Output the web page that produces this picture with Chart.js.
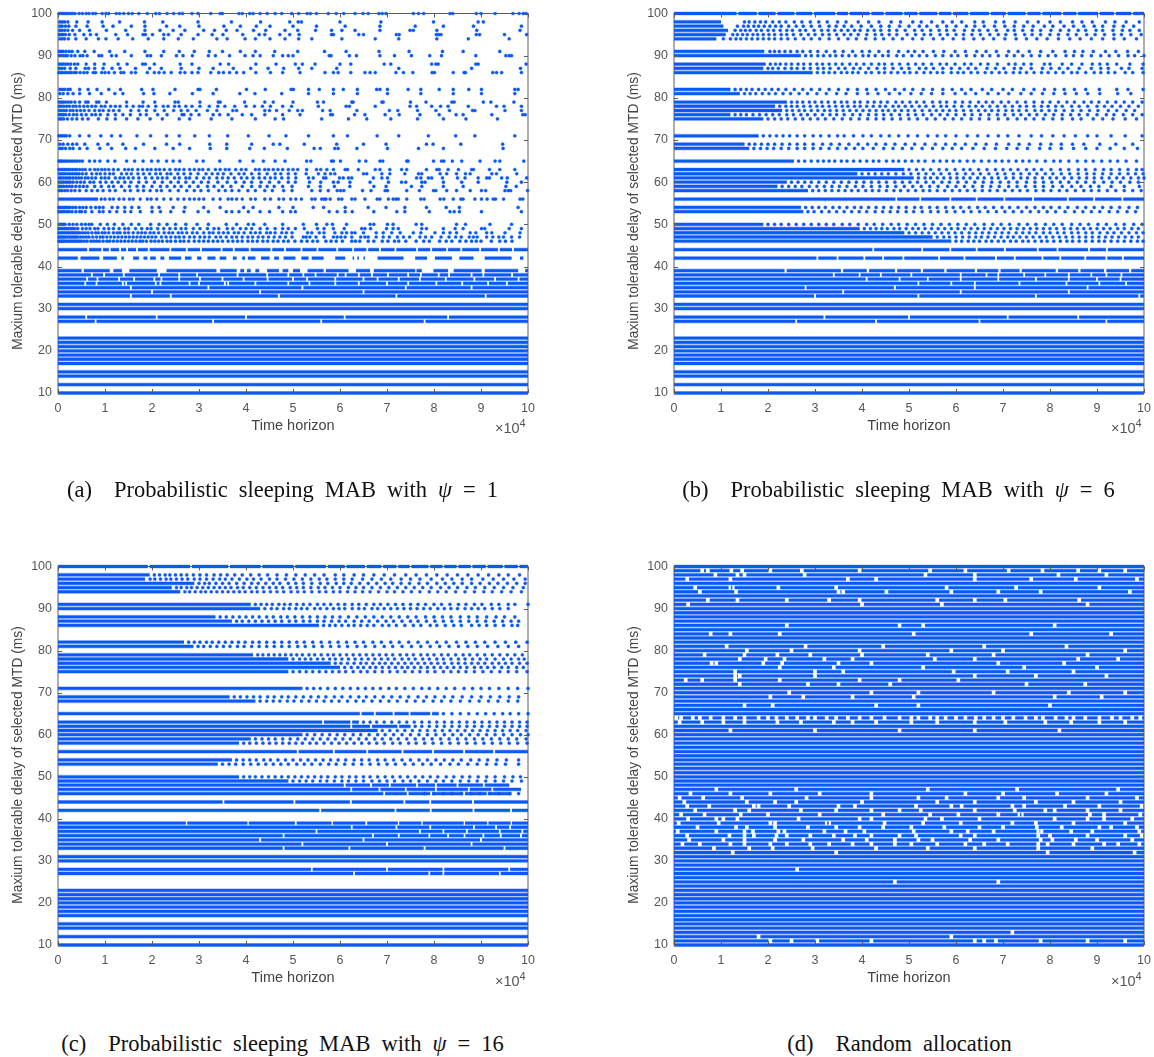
<!DOCTYPE html>
<html>
<head>
<meta charset="utf-8">
<title>Sleeping MAB delay charts</title>
<script src="https://cdn.jsdelivr.net/npm/chart.js@4"></script>
<style>
  body { margin: 0; background: #fff; width: 1154px; height: 1057px; position: relative; overflow: hidden; }
  canvas { position: absolute; }
  .caption { position: absolute; width: 577px; text-align: center; font: 22.5px "Liberation Serif", serif; color: #111; word-spacing: 5.4px; white-space: nowrap; }
  .exp { position: absolute; font: 14.5px "Liberation Sans", sans-serif; color: #555; white-space: nowrap; }
  .exp sup { font-size: 11px; line-height: 0; }
  .ylab { position: absolute; font: 13.8px "Liberation Sans", sans-serif; color: #444; white-space: nowrap; transform: translate(-50%, -50%) rotate(-90deg); }
</style>
</head>
<body>
<canvas id="a" width="577" height="445" style="left:0;top:0"></canvas>
<canvas id="b" width="577" height="445" style="left:616px;top:0"></canvas>
<canvas id="c" width="577" height="444" style="left:0;top:553px"></canvas>
<canvas id="d" width="577" height="444" style="left:616px;top:553px"></canvas>
<div class="ylab" style="left:17px;top:211px">Maxium tolerable delay of selected MTD (ms)</div>
<div class="ylab" style="left:633px;top:211px">Maxium tolerable delay of selected MTD (ms)</div>
<div class="ylab" style="left:17px;top:765px">Maxium tolerable delay of selected MTD (ms)</div>
<div class="ylab" style="left:633px;top:765px">Maxium tolerable delay of selected MTD (ms)</div>
<div class="caption" style="left:-6px;top:477px">(a)&nbsp; Probabilistic sleeping MAB with <i>ψ</i> = 1</div>
<div class="caption" style="left:610px;top:477px">(b)&nbsp; Probabilistic sleeping MAB with <i>ψ</i> = 6</div>
<div class="caption" style="left:-6px;top:1031px">(c)&nbsp; Probabilistic sleeping MAB with <i>ψ</i> = 16</div>
<div class="caption" style="left:611px;top:1031px">(d)&nbsp; Random allocation</div>
<div class="exp" style="left:495px;top:420px">×10<sup>4</sup></div>
<div class="exp" style="left:1111px;top:420px">×10<sup>4</sup></div>
<div class="exp" style="left:495px;top:973px">×10<sup>4</sup></div>
<div class="exp" style="left:1111px;top:973px">×10<sup>4</sup></div>
<script>
const dotLevels = [100,98,97,96,95,94,91,90,88,87,86,82,81,79,78,77,76,75,71,69,68,65,63,62,61,60,59,58,56,54,53,50,49,48,47,46];

const dotsA = [
[2,6,10,14,18,22,27,31,36,45,52,60,66,74,80,94,102,108,124,131,140,150,158,172,190,208,216,232,246,258,265,285,298,325,345,350,385,392,408,415,430,445,462,476,497,512,530,537,550,575,592,608,632,649,660,683,690,698,756,767,778,834,840,890,900,930,968,981,990,996],
[4,9,14,21,40,64,94,131,184,223,298,369,431,493,511,518,600,687,799,894,905],
[4,9,16,23,38,62,96,117,156,185,231,259,300,353,388,422,451,500,550,611,685,760,820,884,986],
[4,8,14,21,31,46,67,103,144,185,217,245,270,310,333,358,381,416,442,483,510,548,582,604,632,685,749,756,806,891,983],
[3,7,11,16,24,36,55,69,82,123,148,181,186,201,225,235,262,298,328,351,393,428,440,472,493,513,582,586,640,650,720,726,805,810,815,890,897,950,997],
[4,9,14,22,38,60,86,102,128,159,192,225,256,288,338,360,398,420,451,483,512,540,604,675,725,806,873,960],
[3,7,11,17,24,30,42,57,77,110,142,185,225,258,290,322,350,388,420,461,510,567,613,683,747,818,862,940],
[3,7,12,16,20,28,36,47,53,62,87,93,114,124,156,190,197,220,252,266,286,320,335,365,398,415,430,458,478,490,500,577,581,620,635,685,716,752,791,816,889,953,960,965],
[3,7,11,16,21,27,35,42,60,78,98,128,147,180,186,205,260,285,345,363,421,464,505,520,547,600,623,694,708,795,804,809,889,894,996],
[3,8,14,26,38,58,65,78,96,115,132,165,195,220,262,300,330,373,410,447,480,512,540,593,725,880,984],
[2,6,10,15,19,24,28,34,39,47,55,62,75,80,93,100,108,120,134,140,156,165,190,205,215,226,241,260,270,285,298,325,342,352,365,380,395,421,452,478,515,568,586,596,623,653,664,675,719,735,755,796,801,841,864,867,925,933,944,986],
[4,9,14,21,26,46,64,83,108,133,178,202,249,298,302,337,401,441,496,501,533,556,586,607,637,678,685,701,745,772,811,841,874,901,972,979],
[4,11,21,32,46,67,92,121,138,182,204,238,286,330,387,419,476,533,586,637,701,772,841,901,972],
[3,7,11,16,22,28,36,46,59,64,82,87,103,146,181,206,249,256,302,341,345,397,440,458,500,552,565,625,628,689,692,750,783,838,843,905,921,970],
[3,7,12,18,24,32,38,46,55,63,72,80,92,100,112,122,132,146,160,173,180,192,208,224,234,248,258,272,285,302,322,340,355,376,400,418,435,452,478,497,554,613,620,675,749,763,795,814,830,873,933,949,986],
[3,8,13,18,26,32,40,48,56,66,78,88,96,108,118,130,155,172,188,206,226,246,262,276,294,318,338,372,380,440,450,465,492,510,520,563,579,636,705,723,765,804,833,882,887,951,986],
[3,7,11,16,24,33,40,50,60,72,80,90,106,122,138,154,175,188,212,232,264,268,283,300,330,344,362,392,412,440,478,515,580,584,631,653,696,726,770,811,847,862,923,989,994],
[3,7,12,20,30,40,52,64,86,104,122,146,170,196,222,258,280,326,370,420,462,480,561,618,657,708,765,820,868,935],
[2,6,10,14,18,25,46,66,91,114,133,168,197,231,258,291,322,361,405,449,485,533,586,616,679,725,788,846,887,972],
[4,11,21,31,40,57,85,106,138,182,231,259,323,359,412,458,472,524,593,650,698,784,798,857,946],
[4,9,16,25,32,46,62,89,114,144,165,206,245,280,324,359,408,439,488,545,558,589,596,636,701,767,820,947],
[2,5,8,12,16,20,25,30,35,40,46,52,67,78,89,106,121,146,163,181,199,213,231,245,259,295,309,344,387,415,437,462,483,529,538,582,586,601,641,655,685,691,742,745,799,816,821,839,859,898,930,940,991],
[2,6,10,14,18,22,26,31,36,40,46,52,58,68,78,85,93,100,108,118,128,142,150,158,170,180,190,198,208,216,226,238,250,258,268,280,290,300,308,320,335,345,356,364,378,390,400,420,428,440,448,458,468,478,490,500,510,529,550,559,572,586,611,616,639,675,685,706,731,742,784,806,811,830,852,880,884,918,940,972],
[3,7,11,15,20,25,30,35,40,45,52,60,72,82,90,100,110,118,135,146,156,170,182,195,208,218,232,240,255,268,282,298,315,328,340,352,368,385,396,412,428,445,462,474,490,505,528,554,568,580,589,650,657,689,706,738,767,774,813,827,848,867,877,923,933,976],
[3,7,12,17,22,26,32,38,44,50,58,64,72,80,92,100,108,122,132,140,150,160,172,186,200,212,222,232,248,258,272,280,295,310,322,338,350,362,375,390,402,415,428,440,452,462,476,490,506,533,543,565,570,599,607,618,625,671,689,701,763,772,788,795,818,850,866,894,912,918,944,956,997],
[3,7,11,16,21,26,32,40,48,56,68,76,90,102,115,128,142,155,172,188,205,222,240,256,272,288,305,320,340,360,378,396,412,432,450,470,490,505,535,559,586,596,621,664,703,731,740,774,781,820,859,894,955,986],
[3,7,12,18,24,30,38,46,54,62,78,92,108,118,135,152,168,182,200,218,232,248,262,280,298,318,332,350,368,392,412,430,445,460,478,498,533,558,588,621,672,698,752,774,820,862,953,975],
[3,8,14,20,28,36,46,60,72,84,96,110,122,142,154,170,182,196,210,220,238,256,274,290,304,320,342,356,370,385,404,420,440,456,480,498,540,558,575,594,601,608,648,666,696,701,742,769,799,804,827,848,877,901,910,951,958,963,999],
[92,100,110,118,130,140,152,160,175,190,198,210,225,240,255,268,280,290,300,310,330,345,362,370,380,392,410,420,440,452,470,480,495,506,518,540,547,561,566,570,579,597,604,625,632,653,679,685,703,713,719,724,742,772,779,813,821,841,857,862,887,901,913,926,931,948,983,989],
[2,6,10,14,18,22,26,32,38,46,53,60,70,80,88,96,115,127,142,157,172,200,215,245,270,310,345,395,415,470,500,543,565,611,660,698,738,784,826,854,979],
[2,6,10,14,19,24,30,38,46,50,58,72,88,96,110,125,142,155,175,200,218,240,268,298,320,358,370,385,405,430,450,478,495,505,577,594,611,626,672,721,738,790,834,843,854,901,986],
[3,7,11,15,24,32,40,50,58,66,72,90,105,120,138,156,172,197,215,232,250,272,296,320,358,380,405,416,440,478,522,550,572,584,614,664,672,701,713,762,774,848,867,919,965],
[2,6,10,14,18,22,27,31,36,42,52,60,68,78,85,98,108,118,130,142,150,165,178,190,198,212,225,238,250,262,272,288,302,318,332,342,360,372,388,400,412,430,445,462,478,490,505,524,552,566,586,609,646,653,665,699,713,724,774,784,820,845,862,901,908,960,986],
[2,6,10,14,18,22,26,30,34,38,42,46,52,58,64,72,80,86,94,100,108,118,126,132,142,150,160,170,178,186,196,204,214,226,236,244,256,264,274,286,296,310,322,330,342,352,362,375,384,396,410,420,430,444,452,462,476,486,498,531,540,556,566,589,604,614,625,632,650,677,692,710,728,756,772,802,820,834,848,877,889,912,923,951,983],
[2,5,8,11,14,18,22,26,30,34,38,42,48,54,60,66,74,82,90,96,104,112,120,128,136,144,152,160,168,176,184,192,200,208,220,230,240,250,258,268,280,290,302,312,322,336,346,358,370,380,392,404,414,426,436,448,460,472,484,498,522,528,536,549,566,586,594,602,611,625,644,653,660,677,692,705,722,735,748,770,782,795,815,832,846,858,875,884,892,912,925,938,948,965,982],
[2,5,8,11,14,18,22,26,30,34,38,42,46,50,56,62,70,76,82,88,96,104,110,118,126,134,142,150,158,166,174,180,188,198,206,214,222,232,240,250,260,268,278,290,300,310,320,330,340,350,362,372,382,392,404,414,424,436,446,458,468,480,490,504,518,530,542,552,570,581,592,605,625,633,642,660,672,690,702,716,725,740,762,778,790,812,826,838,855,868,880,890,900,922,940,952,966]
];

const solidA = [
[56,0,85],
[42,0,42,48,88,96,125,135,140,160,172,182,190,196,208,218,226,236,262,270,284,296,305,318,335,344,358,372,380,392,398,404,420,432,450,460,470,480,505,518,533,540,565,590,611,627,630,637,640,650,653,680,735,760,785,802,838,854,884,908,965,983,990],
[39,0,50,55,110,118,136,152,210,231,337,345,380,388,396,402,410,420,428,445,470,478,490,500,515,531,565,570,618,634,664,672,760,763,774,799,830,842,901,908,979,994,1000]
];

// rows that run the whole way, with the times where a small white break shows
const gapRowsA = [
[44,64,94,110,132,147,168,193,239,274,304,348,374,408,454,483,518,552,594,628,658,685,718,764,794,828,858,898,938,968],
[38,72,98,140,215,258,296,382,445,490,522,548,595,612,640,668,702,745,772,810,832,880,905,966],
[37,62,84,130,162,205,220,258,302,350,395,446,500,530,590,650,680,725,770,825,886,930,980],
[36,58,82,138,145,208,218,280,300,355,362,420,490,535,590,640,700,745,805,860,915,955],
[35,155,320,520,740,880],[34,200,430,650],[33,155,240,470,720,910],
[31],[30],[28,60,210,400,610,830],[27,80,330,560,780],
[23],[22],[21],[20],[19],[18],[17],[15],[14],[12],[10]
];

const dotsB = [
[],
[150,160,172,184,195,210,224,238,256,272,290,308,326,348,366,392,414,436,462,482,508,526,548,572,592,612,640,658,684,702,726,752,775,800,822,848,868,890,918,938,962,990],
[135,148,158,170,180,192,204,216,228,244,260,275,292,310,330,345,362,378,398,420,440,458,480,500,522,538,560,580,600,622,640,660,682,704,724,744,764,788,806,830,850,872,894,912,936,956,978],
[130,142,152,162,175,186,200,212,226,240,252,268,280,298,314,328,342,356,370,384,396,412,426,440,458,474,492,512,528,546,564,580,596,618,636,650,668,686,710,724,742,762,780,802,822,840,860,876,898,912,934,954,970,990],
[125,135,146,156,168,178,190,202,214,228,240,254,270,286,300,316,330,346,362,376,392,410,428,442,458,474,496,514,532,546,566,582,600,616,634,652,672,690,706,726,746,762,780,800,818,838,856,878,896,916,936,952,972,994],
[105,120,132,142,154,166,178,190,202,214,228,242,258,276,292,310,330,350,370,388,408,428,446,466,486,508,528,552,572,594,616,638,658,680,704,728,750,772,794,818,842,864,888,912,936,958,984],
[204,214,224,236,248,262,274,290,306,324,342,360,380,400,416,436,456,478,498,512,530,552,574,598,620,644,664,686,712,732,756,780,806,832,852,870,892,918,940,965,988],
[280,292,306,318,332,344,358,372,386,402,414,428,444,456,474,488,506,522,538,556,572,590,604,622,640,656,672,690,708,724,742,760,778,796,812,834,850,868,888,908,926,946,966,980,1000],
[205,216,226,238,250,264,276,290,304,316,330,344,358,374,388,404,420,436,448,464,480,498,514,530,548,566,580,598,618,632,652,668,688,712,726,744,760,788,800,826,846,868,890,906,922,942,970,998],
[200,210,222,236,250,262,276,290,306,318,332,350,364,382,396,414,432,448,466,484,500,522,536,552,572,590,608,626,642,666,684,702,724,738,760,784,802,820,838,862,888,908,924,952,968,996],
[305,318,330,342,356,368,380,392,408,420,436,448,462,476,490,502,516,532,546,560,572,590,604,616,632,646,662,676,692,706,722,736,750,766,782,796,812,828,846,858,876,894,908,924,938,960,976,998],
[130,142,154,166,180,194,208,222,238,256,274,292,310,330,350,370,390,410,430,450,470,490,508,530,550,572,592,612,632,656,676,700,720,744,766,788,810,830,852,876,905,942,966,998],
[150,162,174,188,202,216,232,248,266,284,304,324,346,366,390,412,434,458,480,504,526,548,572,598,620,642,668,690,712,738,760,784,808,832,856,880,906,944,972],
[250,262,274,288,300,314,328,342,356,368,384,396,412,426,440,454,472,486,502,516,532,550,566,580,598,614,630,648,664,678,696,712,730,748,766,784,800,818,836,852,872,888,904,922,940,958,976,996],
[225,238,250,262,276,290,304,316,330,344,358,370,384,396,410,424,438,450,466,478,492,506,522,536,552,568,580,596,612,628,642,656,672,688,704,720,736,750,766,782,796,812,826,846,862,880,900,916,932,950,968,988],
[240,252,266,278,292,306,320,332,346,360,374,388,402,416,430,444,456,470,484,498,512,528,544,558,572,586,600,616,632,648,662,676,690,706,720,734,750,768,782,798,812,830,848,866,884,902,924,942,962,980],
[130,142,154,168,182,196,210,224,240,254,270,284,300,316,332,346,362,380,396,414,430,446,462,480,498,514,530,548,566,582,600,618,634,652,670,688,704,722,738,756,772,790,808,826,844,862,880,900,920,936,956,976,996],
[200,214,228,242,258,274,290,306,322,340,358,376,394,412,430,446,464,482,500,518,538,556,576,594,612,632,650,670,690,710,730,748,766,786,806,826,848,866,892,912,934,960,984],
[190,204,218,232,246,262,278,296,312,330,348,362,382,402,420,440,458,478,498,518,540,560,578,600,624,646,668,690,710,734,760,782,806,830,854,880,900,930,960,996],
[160,172,186,200,214,230,246,262,278,296,316,334,352,372,392,412,430,450,470,492,512,534,556,578,598,620,642,664,686,712,734,756,780,802,824,848,872,906,940,976],
[170,184,198,212,228,244,262,278,296,312,330,348,366,384,402,424,446,466,486,506,528,550,572,592,612,636,660,684,708,730,752,778,800,824,850,876,900,928,958,986],
[265,278,292,306,318,330,342,356,368,382,396,410,424,436,452,466,478,492,506,520,534,552,566,580,594,608,624,638,654,670,684,698,712,728,742,756,772,790,808,822,840,858,876,892,910,928,944,962,984],
[500,516,530,546,564,580,598,616,630,648,666,684,700,716,732,750,766,782,802,822,840,860,876,896,914,930,948,966,984,996],
[400,414,428,442,456,472,488,504,520,536,552,568,586,602,620,636,652,670,688,704,722,738,756,772,790,806,824,842,860,878,894,912,930,948,966,982,998],
[520,534,546,560,574,588,602,616,630,646,660,676,690,706,722,738,752,768,784,800,814,830,846,862,878,894,910,926,942,956,972,988,1000],
[250,264,278,292,308,324,340,356,372,388,404,420,436,452,470,486,502,518,536,552,570,586,604,622,640,658,676,694,712,730,750,768,786,804,822,840,858,876,894,914,932,950,970,988],
[230,244,258,272,288,304,320,336,352,368,386,402,420,438,454,472,490,508,526,544,562,582,600,618,636,656,674,692,712,730,748,768,786,806,826,846,866,886,904,930,958,990],
[295,308,322,336,350,364,378,392,408,422,436,452,468,482,498,514,530,544,560,576,592,608,624,640,656,672,688,704,720,736,752,770,786,802,820,836,854,872,888,904,922,940,958,976,994],
[],
[280,294,308,322,338,352,368,384,398,414,430,446,462,478,494,512,526,544,560,578,594,610,628,646,662,680,698,714,732,750,768,786,802,820,838,858,876,894,912,930,948,968,986],
[285,298,314,330,346,362,378,394,410,428,444,460,476,494,510,528,546,562,580,598,616,632,650,668,686,704,722,740,758,776,794,812,832,852,870,888,906,926,944,964,982],
[200,214,228,244,260,276,292,308,324,340,358,374,392,410,426,444,462,478,496,514,532,550,568,586,604,622,640,660,678,696,714,734,752,770,790,808,826,846,864,882,902,920,940,958,978,996],
[405,418,430,442,454,468,480,494,508,520,534,548,562,576,590,604,618,632,646,660,674,688,702,716,730,744,758,772,786,800,814,830,844,858,872,886,900,914,928,944,958,974,988],
[500,514,528,542,556,570,584,598,612,628,642,656,670,684,698,712,728,742,756,770,786,800,816,830,846,860,876,890,906,922,936,952,968,984,998],
[560,574,586,600,614,628,642,654,668,682,696,710,722,736,750,764,778,792,806,820,834,848,862,876,890,904,918,932,946,960,974,988],
[600,612,626,638,650,664,676,690,702,716,728,742,754,768,782,794,808,822,836,848,862,876,890,904,916,930,944,958,972,986,998]
];

const solidB = [
[98,0,100],[97,0,105],[96,0,115],[95,0,110],[94,0,90],[91,0,192],[90,0,270],[88,0,195],[87,0,190],[86,0,295],
[82,0,120],[81,0,140],[79,0,240],[78,0,215],[77,0,230],[76,0,120],[75,0,190],[71,0,180],[69,0,150],[68,0,160],[65,0,255],
[63,0,490],[62,0,390],[61,0,510],[60,0,240],[59,0,220],[58,0,285],
[54,0,270],[53,0,275],[50,0,190],[49,0,395],[48,0,490],[47,0,550],[46,0,590],
[39,0,235,240,355,360,410,415,470,475,525,530,575,580,640,645,690,695,735,740,812,817,860,865,915,920,968,973,1000]
];

const gapRowsB = [
[100,135,178,218,258,296,345,372,418,448,488,520,562,592,628,672,708,750,782,826,858,904,938,975],
[56,473,524,588,644,703,764,838,894,954],
[44,424,528,588,644,704,774,816,883,921],
[42,305,348,405,445,488,564,618,685,725,784,822,875,920,955],
[38,340,395,440,505,610,665,690,745,790,840,888,920,952],[37,410,480,540,610,690,770,840,900,950],[36,520,590,640,735,835,905,962],
[35,280,470,640,880],[34,360,610,840],[33,300,520,770,990],
[31],[30],[28,320,500,710,860],[27,260,430,650,920],
[23],[22],[21],[20],[19],[18],[17],[15],[14],[12],[10]
];

const dotsC = [
[],
[205,216,228,238,250,262,274,288,302,316,332,346,360,376,392,410,428,446,466,486,506,526,546,566,590,608,630,650,672,694,716,740,762,784,806,828,850,872,894,916,938,958,982],
[196,206,218,230,240,252,264,276,290,302,316,330,344,356,370,386,402,416,432,450,466,484,502,520,538,556,572,590,608,626,648,668,688,708,730,750,770,794,818,838,860,880,904,926,948,970,994],
[300,312,322,336,350,364,380,396,412,426,442,458,472,490,506,522,540,558,574,592,608,624,642,660,678,696,712,730,748,768,786,806,824,842,860,880,898,918,936,956,976,994],
[252,262,274,284,296,308,320,332,344,356,368,382,394,408,422,436,450,464,478,494,508,522,538,554,568,584,600,618,634,650,668,686,704,722,740,758,776,794,814,832,850,870,888,908,928,948,968,990],
[270,280,292,304,314,326,338,350,362,374,386,398,412,424,438,452,466,480,496,510,524,540,556,570,586,600,616,632,648,664,682,700,716,734,752,770,790,808,826,846,866,886,906,924,944,964,986],
[420,432,444,456,470,482,494,508,522,536,552,566,580,596,610,626,640,656,672,686,702,718,734,750,766,782,800,816,834,852,868,886,902,922,938,958,972,1000],
[440,454,466,480,492,506,518,530,546,558,572,586,598,610,626,640,652,668,680,694,708,722,736,750,764,778,792,808,822,836,850,866,880,894,908,924,940,958],
[345,358,372,386,400,414,428,444,458,474,488,504,520,536,552,568,584,600,618,636,654,672,690,708,726,744,762,782,800,818,836,856,874,892,912,932,950,972],
[380,392,406,420,434,448,462,476,492,506,522,536,552,566,582,598,612,630,646,662,680,698,714,732,750,766,784,802,820,838,856,874,892,910,928,946,964,980],
[565,578,590,604,618,630,644,658,672,690,704,720,738,756,772,792,806,824,842,858,880,896,912,930,948,966,978],
[278,290,302,316,328,342,356,370,384,398,414,428,444,460,476,492,508,524,542,560,578,596,614,632,650,670,688,708,726,746,766,786,806,826,848,868,888,908,930,952,974,998],
[298,310,324,338,352,366,382,396,412,428,444,460,476,492,510,526,544,562,580,598,616,636,654,674,694,712,732,752,772,792,812,832,852,872,892,914,936,958,980],
[425,436,448,460,472,484,496,508,520,534,546,560,574,586,600,614,628,642,656,670,684,698,712,728,742,756,772,786,800,816,830,846,862,876,892,908,924,940,956,972,988],
[500,514,526,538,552,564,578,590,604,618,632,646,660,674,688,702,716,732,746,760,776,790,806,820,836,852,866,882,898,912,930,948,964,980,992],
[590,602,616,630,644,656,670,684,696,710,724,738,752,766,780,794,808,822,838,852,866,880,894,908,924,938,952,966,982,998],
[610,624,638,650,664,676,690,704,718,732,744,758,772,786,800,814,828,842,856,870,886,900,914,928,944,958,976,990],
[500,514,528,542,556,570,584,598,612,628,644,658,674,690,706,722,738,754,770,786,802,820,836,852,868,886,904,922,940,958,976,998],
[530,544,558,574,590,606,622,638,654,670,686,704,720,738,756,774,790,808,826,844,864,882,900,918,938,958,978,1000],
[375,388,402,416,430,446,460,476,490,506,522,538,554,570,588,604,622,640,656,674,692,710,728,746,766,784,802,822,840,860,880,900,920,940,960,980],
[430,444,458,472,488,502,518,534,550,566,582,598,616,634,650,668,686,704,722,742,760,778,798,816,836,856,876,896,916,936,958,978],
[820,838,856,874,892,910,928,946,962,980,1000],
[650,664,678,694,710,726,742,758,774,790,806,822,838,854,870,886,902,918,934,950,966,982,998],
[760,774,790,806,822,838,854,870,886,902,918,934,950,966,982,998],
[690,706,722,738,754,770,786,802,818,834,850,866,882,898,914,930,946,962,978,996],
[530,546,562,578,594,610,628,644,662,680,696,714,732,750,768,786,804,822,840,858,876,894,912,930,948,966,984,1000],
[420,434,448,462,478,494,510,526,542,558,574,590,606,622,640,656,674,690,708,724,742,760,778,796,814,832,850,868,886,904,922,940,958,976,996],
[395,408,422,436,450,464,478,492,506,520,536,550,566,582,598,614,630,646,662,678,694,712,728,746,762,780,798,816,834,852,870,888,906,924,942,960,978,998],
[],
[380,394,408,422,438,452,468,484,500,516,532,548,564,580,596,612,630,646,662,680,696,714,732,750,768,786,804,822,840,858,878,896,914,934,954,980],
[350,364,378,394,410,426,442,458,474,490,508,524,540,558,576,592,610,628,646,664,682,700,718,738,756,776,794,814,834,852,872,892,912,932,952,980],
[395,408,420,434,448,462,476,490,504,518,532,546,560,574,590,604,620,634,650,664,680,696,712,728,744,760,776,792,808,826,842,860,876,894,912,930,950,968,984],
[500,514,528,542,558,572,588,604,618,634,650,668,684,700,716,734,750,768,786,804,820,838,856,874,892,910,930,948,966,986],
[],
[],
[780,800,820,838,858,878,898,918,938,960,980]
];

const solidC = [
[98,0,195],[97,0,185],[96,0,290],[95,0,242],[94,0,260],[91,0,410],[90,0,430],[88,0,335],[87,0,370],[86,0,555],
[82,0,268],[81,0,288],[79,0,415],[78,0,490],[77,0,580],[76,0,600],[75,0,490],[71,0,520],[69,0,365],[68,0,420],
[65,0,642,646,672,676,712,716,746,750,792,796,810],
[63,0,562,566,622,626,640],[62,0,622,626,664,668,722,726,750],[61,0,680],[60,0,520],[59,0,410],[58,0,385],
[54,0,370],[53,0,340],[50,0,385],[49,0,490],[48,0,608,612,664,668,704,708,762,766,802,806,848,852,904,908,960],
[47,0,622,626,682,686,738,742,802,806,872,876,922,926,985],[46,0,692,696,742,746,792,796,862,866,912,916,965],
[39,0,272,275,403,406,504,508,582,585,654,658,723,726,773,776,863,866,913,916,963,966,1000]
];

const gapRowsC = [
[100,193,283,364,433,503,572,612,655,690,722,750,790,820,850,880,912,948,980],
[56,510,587,658,733,798,864,928],
[44,352,503,623,737,792,883],
[42,558,718,793,884,964],
[38,625,720,792,885,932,962],[37,550,770,820,870,940,988],[36,480,670,725,790,830,865,905,942,985],
[35,430,650,900],[34,520,700,880],[33,480,620,780,950],
[31],[30],[28,540,700,820,960],[27,630,790,820,940],
[23],[22],[21],[20],[19],[18],[17],[15],[14],[12],[10]
];

const levelsD = [100,99,98,97,96,95,94,93,92,91,90,89,88,87,86,85,84,83,82,81,80,79,78,77,76,75,74,73,72,71,70,69,68,67,66,65,64,63,62,61,60,59,58,57,56,55,54,53,52,51,50,49,48,47,46,45,44,43,42,41,40,39,38,37,36,35,34,33,32,31,30,29,28,27,26,25,24,23,22,21,20,19,18,17,16,15,14,13,12,11,10];

const gapRowsD = [
[99,60,72,122,145,205,272,395,545,620,712,784,860,905,960],[98,88,135,150,278,535,640,818,920],[97,28,120,370,430,640,760,855,985],[95,45,120,125,222,345,580,728,905],[94,55,132,350,360,452,590,690,780,970],[92,72,135,240,330,395,560,640,705,862],[91,30,400,570,880],
[86,240,480,530,810],[84,78,120,225,510,760,930],[81,112,280,445,660,835],[80,155,250,395,590,700,960],[79,65,150,220,290,400,540,680,880],[78,140,195,235,320,380,555,640,860,945],[77,80,90,190,230,350,420,690,830],[76,225,340,530,745,900],[75,130,300,360,595,710,850],[74,130,140,300,640,770,920],[73,25,60,130,225,395,480,605],[72,140,285,350,460,750,875],[70,245,420,520,680,840,960],[69,205,275,380,510,810,910],[67,150,210,430,520,800],
[64,5,15,40,55,78,105,130,150,180,200,218,240,262,285,300,325,345,370,395,420,448,480,505,520,545,560,578,600,620,642,660,680,700,722,748,770,785,812,835,850,875,905,932,950,975,992],
[63,12,60,105,150,220,270,340,380,430,505,560,640,705,790,845,905,960],[61,120,300,480,640,820],
[47,90,260,540,730,945],[46,35,120,205,310,420,620,700,815,920],[45,12,62,145,282,420,520,580,690,745,880,985],[44,22,155,215,260,400,560,640,770,850,950],[43,28,75,170,180,245,350,385,515,590,612,720,745,832,905,995],[42,45,130,160,270,345,420,480,525,640,725,790,810,880,950],[41,15,65,142,200,310,445,545,605,690,735,740,885,915,992],[40,30,90,105,135,265,395,420,535,570,650,810,880,915,975],
[39,10,95,205,215,325,330,448,530,610,720,770,850,960],[38,50,132,155,215,285,345,395,445,505,575,650,700,772,825,905,930,985],[37,8,90,150,168,222,235,320,365,405,510,590,625,680,775,782,845,890,990],[36,28,118,150,170,218,240,290,340,385,420,480,515,610,640,775,800,880,960,995],[35,32,105,150,215,275,360,410,470,520,550,630,690,780,805,855,900,975],[34,18,55,120,150,205,240,290,330,380,420,470,505,560,620,660,710,775,795,850,915,945,990],[33,85,160,210,295,430,540,640,775,890],[32,125,345,795,980],
[28,262],[25,470,690],[11,205,250,305,420,640,660,685,780,880,960],[12,180,590],[13,720]
];

const BLUE = '#0a58f5';
const HALO = 'rgba(10,88,245,0.33)';

// a row with break times becomes [level, from, to, from, to, ...]
function gapsToSolid(row, gapWidth) {
  const out = [row[0]];
  let start = 0;
  row.slice(1).forEach(g => {
    out.push(start, g - gapWidth / 2);
    start = g + gapWidth / 2;
  });
  out.push(start, 1000);
  return out;
}

function linePoints(rows) {
  const pts = [];
  rows.forEach(r => {
    for (let i = 1; i < r.length; i += 2) {
      pts.push({ x: r[i] * 100, y: r[0] }, { x: r[i + 1] * 100, y: r[0] }, { x: null, y: null });
    }
  });
  return pts;
}

function dotPoints(levels, times) {
  const pts = [];
  levels.forEach((lvl, i) => times[i].forEach(t => pts.push({ x: t * 100, y: lvl })));
  return pts;
}

// matlab draws its ticks inside the box, on all four sides
const boxTicks = {
  id: 'boxTicks',
  beforeDatasetsDraw(chart) {
    const { ctx, chartArea: area } = chart;
    ctx.save();
    ctx.strokeStyle = '#5c5c5c';
    ctx.lineWidth = 1;
    ctx.strokeRect(area.left, area.top, area.right - area.left, area.bottom - area.top);
    ctx.restore();
  },
  afterDatasetsDraw(chart) {
    const { ctx, chartArea: area, scales } = chart;
    ctx.save();
    ctx.strokeStyle = '#5c5c5c';
    ctx.lineWidth = 1;
    ctx.beginPath();
    scales.x.ticks.forEach(t => {
      const px = Math.round(scales.x.getPixelForValue(t.value)) + 0.5;
      ctx.moveTo(px, area.bottom); ctx.lineTo(px, area.bottom - 4);
      ctx.moveTo(px, area.top); ctx.lineTo(px, area.top + 4);
    });
    scales.y.ticks.forEach(t => {
      const py = Math.round(scales.y.getPixelForValue(t.value)) + 0.5;
      ctx.moveTo(area.left, py); ctx.lineTo(area.left + 4, py);
      ctx.moveTo(area.right, py); ctx.lineTo(area.right - 4, py);
    });
    ctx.stroke();
    ctx.restore();
  }
};

function drawPanel(id, solid, gapRows, gapWidth, dots) {
  const lines = linePoints(solid.concat(gapRows.map(r => gapsToSolid(r, gapWidth))));
  new Chart(document.getElementById(id), {
    type: 'scatter',
    data: {
      datasets: [
        { data: lines, showLine: true, spanGaps: false, borderColor: HALO, borderWidth: 4.2, pointRadius: 0, clip: false, order: 3 },
        { data: lines, showLine: true, spanGaps: false, borderColor: BLUE, borderWidth: 2.8, pointRadius: 0, clip: false, order: 2 },
        { data: dots, showLine: false, pointRadius: 1.6, pointBorderWidth: 1, pointBackgroundColor: BLUE, pointBorderColor: HALO, clip: false, order: 1 }
      ]
    },
    options: {
      responsive: false,
      animation: false,
      events: [],
      layout: { padding: { top: 12, right: 49, left: 0, bottom: 0 } },
      plugins: { legend: { display: false }, tooltip: { enabled: false } },
      scales: {
        x: {
          type: 'linear', min: 0, max: 100000,
          afterFit: s => { s.height = 52; },
          grid: { display: false, drawTicks: false },
          border: { display: false },
          ticks: { stepSize: 10000, padding: 8, maxRotation: 0, color: '#555', font: { family: 'Liberation Sans', size: 12.5 }, callback: v => v / 10000 },
          title: { display: true, text: 'Time horizon', color: '#444', font: { family: 'Liberation Sans', size: 14.5 }, padding: { top: 4, bottom: 10 } }
        },
        y: {
          min: 10, max: 100,
          afterFit: s => { s.width = 58; },
          grid: { display: false, drawTicks: false },
          border: { display: false },
          ticks: { stepSize: 10, padding: 6, color: '#555', font: { family: 'Liberation Sans', size: 12.5 } }
        }
      }
    },
    plugins: [boxTicks]
  });
}

drawPanel('a', solidA, gapRowsA, 4, dotPoints(dotLevels, dotsA));
drawPanel('b', solidB, gapRowsB, 4, dotPoints(dotLevels, dotsB));
drawPanel('c', solidC, gapRowsC, 4, dotPoints(dotLevels, dotsC));
drawPanel('d', [], levelsD.map(lvl => gapRowsD.find(r => r[0] === lvl) || [lvl]), 8, []);
</script>
</body>
</html>
